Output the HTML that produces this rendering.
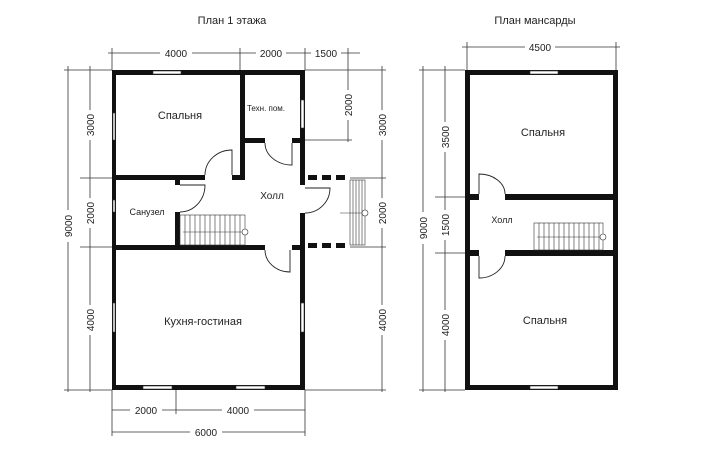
<!DOCTYPE html>
<html><head><meta charset="utf-8"><style>
html,body{margin:0;padding:0;background:#fff;}
svg{display:block;}
text{font-family:"Liberation Sans",sans-serif;fill:#222;}
</style></head><body>
<svg width="701" height="450" viewBox="0 0 701 450" xmlns="http://www.w3.org/2000/svg">
<g stroke="#333" stroke-width="0.8" fill="none">
<line x1="108" y1="53" x2="360" y2="53"/>
<line x1="112" y1="48" x2="112" y2="70"/><line x1="240" y1="48" x2="240" y2="70"/>
<line x1="305" y1="48" x2="305" y2="70"/>
<line x1="68" y1="66" x2="68" y2="392"/><line x1="90" y1="66" x2="90" y2="392"/>
<line x1="64" y1="70" x2="112" y2="70"/><line x1="80" y1="178" x2="112" y2="178"/>
<line x1="80" y1="247" x2="112" y2="247"/><line x1="64" y1="390" x2="112" y2="390"/>
<line x1="348" y1="48" x2="348" y2="142"/><line x1="382" y1="66" x2="382" y2="392"/>
<line x1="305" y1="70" x2="386" y2="70"/><line x1="305" y1="140" x2="352" y2="140"/>
<line x1="350" y1="178" x2="386" y2="178"/><line x1="350" y1="247" x2="386" y2="247"/>
<line x1="305" y1="390" x2="386" y2="390"/>
<line x1="112" y1="410" x2="305" y2="410"/><line x1="112" y1="432" x2="305" y2="432"/>
<line x1="112" y1="390" x2="112" y2="436"/><line x1="305" y1="390" x2="305" y2="436"/>
<line x1="176" y1="390" x2="176" y2="414"/>
<line x1="462" y1="47" x2="620" y2="47"/>
<line x1="467" y1="42" x2="467" y2="70"/><line x1="616" y1="42" x2="616" y2="70"/>
<line x1="423" y1="66" x2="423" y2="392"/><line x1="445" y1="66" x2="445" y2="392"/>
<line x1="419" y1="70" x2="465" y2="70"/><line x1="435" y1="197" x2="465" y2="197"/>
<line x1="435" y1="253" x2="465" y2="253"/><line x1="419" y1="390" x2="465" y2="390"/>
</g>
<g fill="#fff">
<rect x="160" y="47" width="32" height="12"/><rect x="256" y="47" width="30" height="12"/><rect x="311" y="47" width="30" height="12"/>
<rect x="525" y="41" width="30" height="12"/>
<rect x="62" y="210" width="12" height="32"/><rect x="84" y="110" width="12" height="30"/><rect x="84" y="198" width="12" height="30"/><rect x="84" y="305" width="12" height="30"/>
<rect x="342" y="90" width="12" height="30"/><rect x="376" y="110" width="12" height="30"/><rect x="376" y="198" width="12" height="30"/><rect x="376" y="305" width="12" height="30"/>
<rect x="130" y="404" width="32" height="12"/><rect x="222" y="404" width="32" height="12"/><rect x="190" y="426" width="32" height="12"/>
<rect x="417" y="212" width="12" height="32"/><rect x="439" y="122" width="12" height="30"/><rect x="439" y="210" width="12" height="30"/><rect x="439" y="310" width="12" height="30"/>
</g>
<g font-size="10" text-anchor="middle">
<text x="232" y="24" font-size="11">План 1 этажа</text>
<text x="535" y="24" font-size="11">План мансарды</text>
<text x="176" y="57">4000</text><text x="271" y="57">2000</text><text x="326" y="57">1500</text>
<text x="540" y="51">4500</text>
<text x="146" y="414">2000</text><text x="238" y="414">4000</text><text x="206" y="436">6000</text>
<text transform="translate(72,226) rotate(-90)">9000</text>
<text transform="translate(94,125) rotate(-90)">3000</text>
<text transform="translate(94,213) rotate(-90)">2000</text>
<text transform="translate(94,320) rotate(-90)">4000</text>
<text transform="translate(352,105) rotate(-90)">2000</text>
<text transform="translate(386,125) rotate(-90)">3000</text>
<text transform="translate(386,213) rotate(-90)">2000</text>
<text transform="translate(386,320) rotate(-90)">4000</text>
<text transform="translate(427,228) rotate(-90)">9000</text>
<text transform="translate(449,137) rotate(-90)">3500</text>
<text transform="translate(449,225) rotate(-90)">1500</text>
<text transform="translate(449,325) rotate(-90)">4000</text>
<text x="180" y="119" font-size="11">Спальня</text>
<text x="266" y="111" font-size="8">Техн. пом.</text>
<text x="272" y="199">Холл</text>
<text x="147" y="215" font-size="9">Санузел</text>
<text x="203" y="325" font-size="11">Кухня-гостиная</text>
<text x="543" y="136" font-size="11">Спальня</text>
<text x="545" y="324" font-size="11">Спальня</text>
<text x="502" y="223" font-size="9">Холл</text>
</g>
<g fill="#111">
<rect x="112" y="70" width="193" height="5"/>
<rect x="112" y="385" width="193" height="5"/>
<rect x="112" y="70" width="4" height="320"/>
<rect x="300" y="70" width="5" height="115"/>
<rect x="300" y="213" width="5" height="177"/>
<rect x="240" y="70" width="5" height="110"/>
<rect x="245" y="138" width="20" height="5"/><rect x="292" y="138" width="8" height="5"/>
<rect x="116" y="175" width="89" height="5"/><rect x="232" y="175" width="13" height="5"/>
<rect x="175" y="175" width="5" height="10"/><rect x="175" y="212" width="5" height="38"/>
<rect x="116" y="245" width="149" height="5"/><rect x="292" y="245" width="8" height="5"/>
<rect x="308" y="175" width="9" height="5"/><rect x="322" y="175" width="9" height="5"/><rect x="336" y="175" width="9" height="5"/>
<rect x="308" y="243" width="9" height="5"/><rect x="322" y="243" width="9" height="5"/><rect x="336" y="243" width="9" height="5"/>
<rect x="465" y="70" width="153" height="5"/>
<rect x="465" y="385" width="153" height="5"/>
<rect x="465" y="70" width="5" height="320"/>
<rect x="613" y="70" width="5" height="320"/>
<rect x="470" y="194" width="9" height="6"/><rect x="505" y="194" width="108" height="6"/>
<rect x="470" y="250" width="9" height="6"/><rect x="505" y="250" width="108" height="6"/>
</g>
<g fill="#fff" stroke="#333" stroke-width="0.6">
<rect x="153" y="71" width="28" height="3"/>
<rect x="113" y="113" width="2" height="27"/>
<rect x="113" y="200" width="2" height="12"/>
<rect x="113" y="303" width="2" height="29"/>
<rect x="301" y="100" width="3" height="28"/>
<rect x="301" y="303" width="3" height="29"/>
<rect x="143" y="386" width="29" height="3"/>
<rect x="236" y="386" width="29" height="3"/>
<rect x="530" y="71" width="28" height="3"/>
<rect x="530" y="386" width="28" height="3"/>
</g>
<g fill="none" stroke="#222" stroke-width="0.9">
<path d="M232 175 V150 A27 25 0 0 0 205 175"/>
<path d="M292 143 V165 A27 22 0 0 1 265 143"/>
<path d="M180 185 H205 A25 27 0 0 1 180 212"/>
<path d="M305 188 H330 A25 25 0 0 1 305 213"/>
<path d="M290 250 V272 A25 22 0 0 1 265 250"/>
<path d="M479 194 V174 A26 20 0 0 1 505 194"/>
<path d="M479 256 V278 A26 22 0 0 0 505 256"/>
</g>
<g fill="none" stroke="#333" stroke-width="0.6">
<rect x="180" y="215" width="65" height="30"/>
<path d="M185 215V245M190 215V245M195 215V245M200 215V245M205 215V245M210 215V245M215 215V245M220 215V245M225 215V245M230 215V245M235 215V245M240 215V245"/>
<line x1="183" y1="232" x2="243" y2="232"/><circle cx="245" cy="232" r="3" fill="#fff"/>
<rect x="350" y="180" width="15" height="65"/>
<path d="M353 180V245M356 180V245M359 180V245M362 180V245"/>
<line x1="340" y1="213" x2="362" y2="213"/><circle cx="365" cy="213" r="3" fill="#fff"/>
<rect x="534" y="223" width="69" height="27"/>
<path d="M539 223V250M544 223V250M549 223V250M554 223V250M559 223V250M564 223V250M569 223V250M574 223V250M579 223V250M584 223V250M589 223V250M594 223V250M599 223V250"/>
<line x1="537" y1="237" x2="601" y2="237"/><circle cx="603" cy="237" r="3" fill="#fff"/>
</g>
</svg>
</body></html>
